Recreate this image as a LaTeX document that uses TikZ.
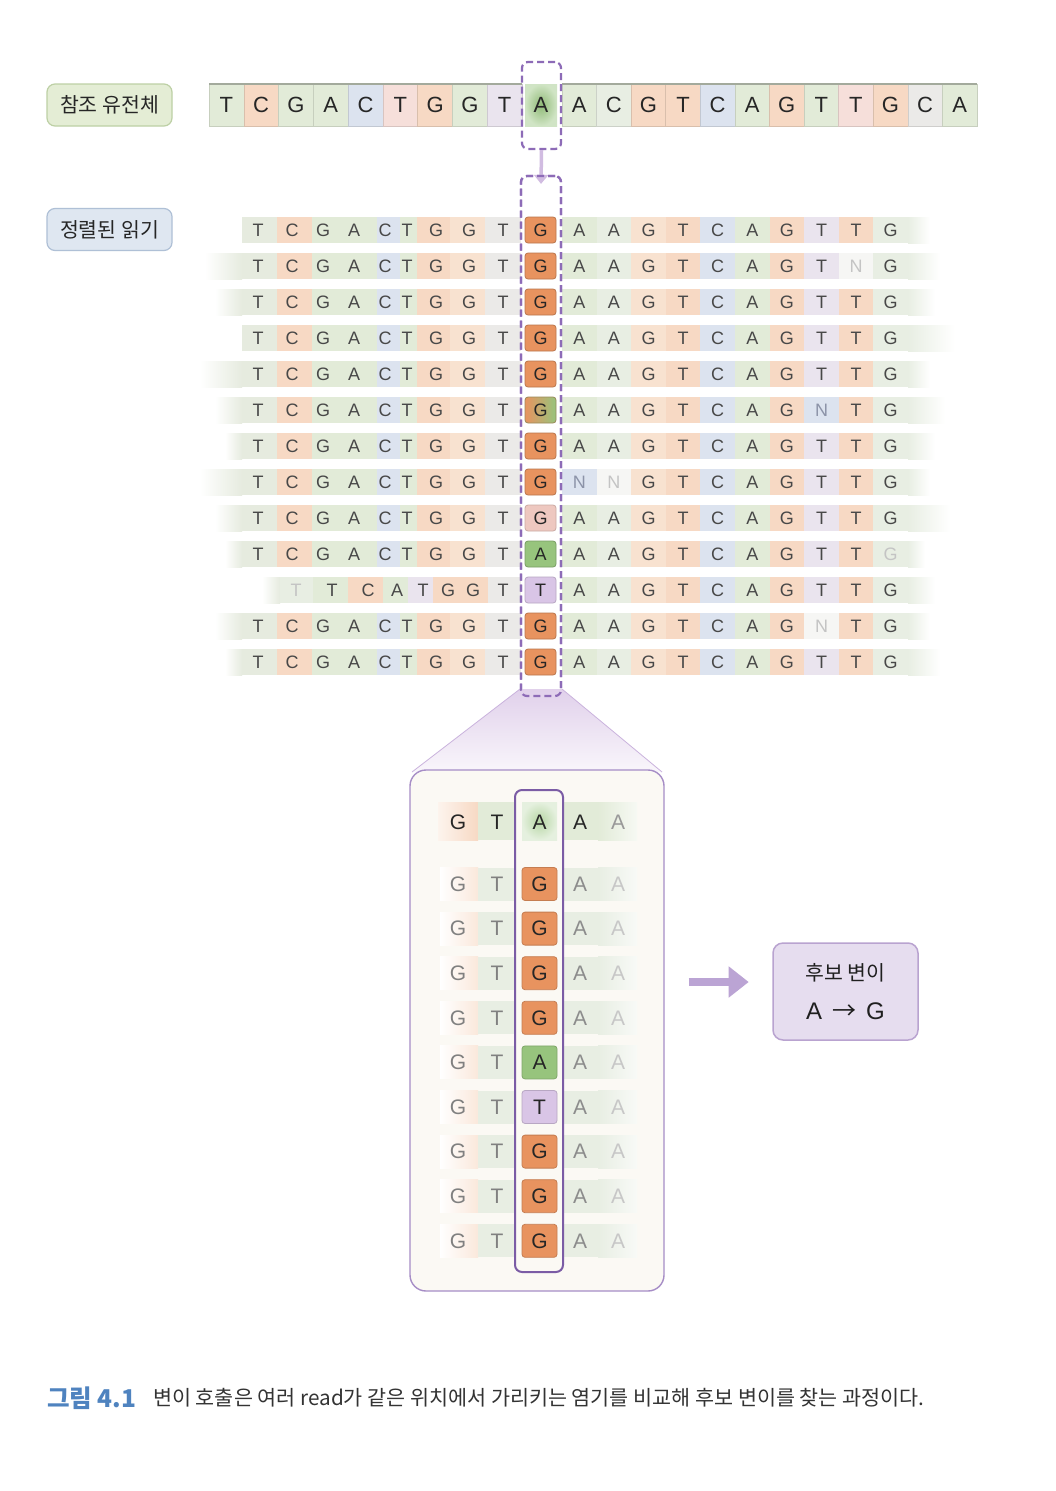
\documentclass[tikz,border=0pt]{standalone}
\usepackage{fontspec}
\setmainfont{Liberation Sans}
\newfontfamily\kr{Noto Sans CJK KR}
\usetikzlibrary{arrows.meta,calc}

\definecolor{cell1}{HTML}{E6EBDF}
\definecolor{cell2}{HTML}{F7D9C4}
\definecolor{cell3}{HTML}{E2EBD8}
\definecolor{cell4}{HTML}{DCE3EF}
\definecolor{cell5}{HTML}{F8E2D0}
\definecolor{cell6}{HTML}{EBEAE8}
\definecolor{cell7}{HTML}{E8EEE3}
\definecolor{cell8}{HTML}{EAE4EE}
\definecolor{cell9}{HTML}{F6F6F4}
\definecolor{cell10}{HTML}{F6DFDA}
\definecolor{gOr}{HTML}{E8935F}
\definecolor{gGr}{HTML}{97C47D}
\definecolor{gLi}{HTML}{D9C5E6}
\definecolor{gPk}{HTML}{EEC8C0}
\definecolor{selc}{HTML}{8D6BB7}
\definecolor{selc2}{HTML}{7B5CA5}
\definecolor{txtc}{HTML}{484848}
\definecolor{faintc}{HTML}{C4C4C4}
\definecolor{midc}{HTML}{8C93A8}
\definecolor{labG}{HTML}{E4EDD5}
\definecolor{labGd}{HTML}{BDD0A5}
\definecolor{labB}{HTML}{DFE7F1}
\definecolor{labBd}{HTML}{AFC0D6}
\definecolor{panF}{HTML}{FBF9F4}
\definecolor{panD}{HTML}{A68DC6}
\definecolor{candF}{HTML}{E6DDEF}
\definecolor{candD}{HTML}{B9A3D0}
\definecolor{arrc}{HTML}{BBA4D4}
\definecolor{capb}{HTML}{4F83BF}
\definecolor{reflc}{HTML}{A3AA9C}

\def\xqT{T}\def\xqC{C}\def\xqG{G}\def\xqA{A}\def\xqN{\textcolor{midc}{N}}
\def\xqt{\textcolor{faintc}{T}}\def\xqc{\textcolor{faintc}{C}}
\def\xqg{\textcolor{faintc}{G}}\def\xqa{\textcolor{faintc}{A}}
\def\xqn{\textcolor{faintc}{N}}
\def\chkN{N}\def\chkn{n}

\def\LE{{242,277,312,345,377,400,417,450,485,521}}
\def\LX{{258,292,323,354,385,407,436,469,503}}
\def\LC{{1,2,3,3,4,3,2,5,6}}
\def\RC{{3,7,5,2,4,3,2,8,2,7}}

\tikzset{
  refb/.style={font=\fontsize{22}{24}\selectfont, text=black!85, inner sep=0pt},
  rdb/.style={font=\fontsize{18}{20}\selectfont, text=txtc, inner sep=0pt},
  ccell/.style={minimum width=31pt, minimum height=26pt, rounded corners=3pt,
    inner sep=0pt, font=\fontsize{18}{20}\selectfont, text=black!85, line width=0.8pt},
  sel/.style={draw=selc, dash pattern=on 7pt off 4pt, line width=2.2pt,
    rounded corners=6pt, inner sep=0pt},
  lab/.style={minimum width=125pt, minimum height=42pt, rounded corners=8pt,
    line width=1.2pt, inner sep=0pt, text=black!85,
    font=\kr\fontsize{20.5}{24}\selectfont},
  pb/.style={font=\fontsize{21}{24}\selectfont, inner sep=0pt},
  pcell/.style={minimum width=35pt, minimum height=33pt, rounded corners=3pt,
    inner sep=0pt, font=\fontsize{21}{24}\selectfont, text=black!85, line width=0.8pt},
}

% #1 idx, #2 y, #3 left letters, #4 centre letter, #5 centre style,
% #6 right letters, #7 left fade start, #8 right fade end
\newcommand\readrow[8]{%
  \pgfmathsetmacro\qxz{\LE[0]}%
  \shade[left color=white,right color=cell1] (#7,#2-13) rectangle (\qxz,#2+13);
  \shade[left color=cell7,right color=white] (908,#2-13) rectangle (#8,#2+13);
  \foreach \bq [count=\j from 0] in {#3} {%
    \pgfmathsetmacro\qxa{\LE[\j]}%
    \pgfmathsetmacro\qxb{\LE[\j+1]}%
    \pgfmathsetmacro\qxl{\LX[\j]}%
    \pgfmathtruncatemacro\qci{\LC[\j]}%
    \edef\curL{\bq}%
    \ifx\curL\chkN\def\qci{4}\fi
    \ifx\curL\chkn\def\qci{9}\fi
    \fill[cell\qci] (\qxa,#2-13) rectangle (\qxb,#2+13);
    \node[rdb] (r#1l\j) at (\qxl,#2) {\csname xq\bq\endcsname};
  }
  \node[ccell,#5] (r#1c) at (540.5,#2) {#4};
  \foreach \bq [count=\j from 0] in {#6} {%
    \pgfmathsetmacro\qxa{562+34.6*\j}%
    \pgfmathsetmacro\qxb{\qxa+34.6}%
    \pgfmathtruncatemacro\qci{\RC[\j]}%
    \edef\curL{\bq}%
    \ifx\curL\chkN\def\qci{4}\fi
    \ifx\curL\chkn\def\qci{9}\fi
    \fill[cell\qci] (\qxa,#2-13) rectangle (\qxb,#2+13);
    \node[rdb] (r#1r\j) at ({\qxa+17.3},#2) {\csname xq\bq\endcsname};
  }
}

\begin{document}
\begin{tikzpicture}[x=1pt,y=-1pt]
\useasboundingbox (0,0) rectangle (1055,1491);
\fill[white] (0,0) rectangle (1055,1491);

% ---------- labels ----------
\node[lab,fill=labG,draw=labGd] (reflab) at (109.5,105) {참조 유전체};
\node[lab,fill=labB,draw=labBd] (readlab) at (109.5,229.5) {정렬된 읽기};

% ---------- reference row ----------
\foreach \bq/\c [count=\j from 0] in {T/3,C/2,G/3,A/3,C/4,T/10,G/2,G/3,T/8} {
  \pgfmathsetmacro\qxa{209+34.78*\j}
  \pgfmathsetmacro\qxb{\qxa+34.78}
  \fill[cell\c, draw=cell\c!88!black, line width=0.5pt] (\qxa,84) rectangle (\qxb,126);
  \node[refb] (g\j) at ({\qxa+17.39},105) {\bq};
}
\shade[inner color=gGr!95!black, outer color=gGr!45] (525,84) rectangle (557,126);
\node[refb] (g9) at (541,105) {A};
\foreach \bq/\c [count=\j from 10] in {A/3,C/7,G/2,T/2,C/4,A/3,G/2,T/3,T/10,G/2,C/6,A/3} {
  \pgfmathsetmacro\qxa{562+34.58*(\j-10)}
  \pgfmathsetmacro\qxb{\qxa+34.58}
  \fill[cell\c, draw=cell\c!88!black, line width=0.5pt] (\qxa,84) rectangle (\qxb,126);
  \node[refb] (g\j) at ({\qxa+17.29},105) {\bq};
}
\draw[reflc, line width=1.2pt] (209,84) -- (522,84) (562,84) -- (977,84);

% ---------- aligned reads ----------
\readrow{1}{230}{T,C,G,A,C,T,G,G,T}{G}{fill=gOr,draw=gOr!80!black}{A,A,G,T,C,A,G,T,T,G}{242}{930}
\readrow{2}{266}{T,C,G,A,C,T,G,G,T}{G}{fill=gOr,draw=gOr!80!black}{A,A,G,T,C,A,G,T,n,G}{205}{940}
\readrow{3}{302}{T,C,G,A,C,T,G,G,T}{G}{fill=gOr,draw=gOr!80!black}{A,A,G,T,C,A,G,T,T,G}{215}{935}
\readrow{4}{338}{T,C,G,A,C,T,G,G,T}{G}{fill=gOr,draw=gOr!80!black}{A,A,G,T,C,A,G,T,T,G}{242}{955}
\readrow{5}{374}{T,C,G,A,C,T,G,G,T}{G}{fill=gOr,draw=gOr!80!black}{A,A,G,T,C,A,G,T,T,G}{200}{930}
\readrow{6}{410}{T,C,G,A,C,T,G,G,T}{G}{left color=gOr,right color=gGr,draw=gOr!50!gGr!80!black}{A,A,G,T,C,A,G,N,T,G}{215}{945}
\readrow{7}{446}{T,C,G,A,C,T,G,G,T}{G}{fill=gOr,draw=gOr!80!black}{A,A,G,T,C,A,G,T,T,G}{225}{935}
\readrow{8}{482}{T,C,G,A,C,T,G,G,T}{G}{fill=gOr,draw=gOr!80!black}{N,n,G,T,C,A,G,T,T,G}{200}{930}
\readrow{9}{518}{T,C,G,A,C,T,G,G,T}{G}{fill=gPk,draw=gPk!85!black}{A,A,G,T,C,A,G,T,T,G}{215}{950}
\readrow{10}{554}{T,C,G,A,C,T,G,G,T}{A}{fill=gGr,draw=gGr!80!black}{A,A,G,T,C,A,G,T,T,g}{225}{925}
{%
\def\LE{{280,313,348,383,408,433,458,488,521}}%
\def\LX{{296,332,368,397,423,448,473,503}}%
\def\LC{{7,3,2,3,8,2,2,6}}%
\readrow{11}{590}{t,T,C,A,T,G,G,T}{T}{fill=gLi,draw=gLi!85!black}{A,A,G,T,C,A,G,T,T,G}{262}{935}
}
\readrow{12}{626}{T,C,G,A,C,T,G,G,T}{G}{fill=gOr,draw=gOr!80!black}{A,A,G,T,C,A,G,n,T,G}{215}{930}
\readrow{13}{662}{T,C,G,A,C,T,G,G,T}{G}{fill=gOr,draw=gOr!80!black}{A,A,G,T,C,A,G,T,T,G}{225}{940}

% ---------- selectors ----------
\node[sel, minimum width=39pt, minimum height=87pt] (topsel) at (541.5,105.5) {};
\node[sel, minimum width=40pt, minimum height=520pt] (colsel) at (541,436) {};
\draw[line width=3.5pt, draw=gLi!90!selc, -{Triangle[length=9pt,width=14pt]}]
  (topsel.south) -- ([yshift=-9pt]colsel.north);

% ---------- zoom wedge and panel ----------
\shade[top color=gLi!80, bottom color=gLi!15]
  ([yshift=8pt]colsel.south west) -- ([yshift=8pt]colsel.south east)
  -- (662,772) -- (412,772) -- cycle;
\draw[gLi!80!selc, line width=0.8pt] ([yshift=8pt]colsel.south west) -- (412,772)
  ([yshift=8pt]colsel.south east) -- (662,772);
\node[sel, minimum width=40pt, minimum height=520pt] at (541,436) {};

\node[draw=panD, fill=panF, line width=1.4pt, rounded corners=16pt,
  minimum width=254pt, minimum height=521pt, inner sep=0pt] (panel) at (537,1030.5) {};

% top row of panel
\shade[left color=cell2!30, right color=cell2] (438,802) rectangle (478,840);
\fill[cell3] (478,802) rectangle (515,840);
\shade[inner color=gGr!70, outer color=gGr!25] (522,802) rectangle (557,840);
\fill[cell3] (563,802) rectangle (598,840);
\shade[left color=cell3, right color=cell3!30] (598,802) rectangle (637,840);
\node[pb,text=black!85] (pt0) at (458,822) {G};
\node[pb,text=black!85] (pt1) at (497,822) {T};
\node[pb,text=black!85] (pt2) at (539.5,822) {A};
\node[pb,text=black!85] (pt3) at (580,822) {A};
\node[pb,text=black!40] (pt4) at (618,822) {A};

\foreach \bq/\sty [count=\k from 0] in {G/gOr,G/gOr,G/gOr,G/gOr,A/gGr,T/gLi,G/gOr,G/gOr,G/gOr} {
  \pgfmathsetmacro\yy{884+44.6*\k}
  \shade[left color=white, right color=cell2!60] (440,\yy-16.5) rectangle (478,\yy+16.5);
  \fill[cell7] (478,\yy-16.5) rectangle (515,\yy+16.5);
  \fill[cell7] (563,\yy-16.5) rectangle (598,\yy+16.5);
  \shade[left color=cell7, right color=cell7!30] (598,\yy-16.5) rectangle (637,\yy+16.5);
  \node[pb,text=black!50] (pa\k) at (458,\yy) {G};
  \node[pb,text=black!50] (pb\k) at (497,\yy) {T};
  \node[pcell,fill=\sty,draw=\sty!85!black] (pc\k) at (539.5,\yy) {\bq};
  \node[pb,text=black!45] (pd\k) at (580,\yy) {A};
  \node[pb,text=black!22] (pe\k) at (618,\yy) {A};
}
\node[draw=selc2, line width=2pt, rounded corners=7pt, minimum width=48pt,
  minimum height=482pt, inner sep=0pt] (pcol) at (539,1031) {};

% ---------- candidate ----------
\node[draw=candD, fill=candF, line width=1.5pt, rounded corners=10pt,
  minimum width=145pt, minimum height=97pt, inner sep=0pt] (cand) at (845.5,991.5) {};
\node[font=\kr\fontsize{20.5}{24}\selectfont, text=black!88, inner sep=0pt] (candt1) at (845.5,973) {후보 변이};
\node[font=\fontsize{24}{27}\selectfont, text=black!88, inner sep=0pt] (candt2) at (845.5,1011) {A\kern10pt{\kr →}\kern10pt G};
\draw[line width=8pt, draw=arrc, -{Triangle[length=20pt,width=30pt]}]
  ([yshift=9.5pt]panel.east |- cand.west) ++(24,0) -- ++(60,0);

% ---------- caption ----------
\node[anchor=west, font=\kr\bfseries\fontsize{24.5}{28}\selectfont, text=capb, inner sep=0pt]
  (figno) at (47,1398) {그림 4.1};
\node[anchor=west, font=\kr\fontsize{20.7}{24}\selectfont, text=black!80, inner sep=0pt]
  (cap) at (153,1398) {변이 호출은 여러 read가 같은 위치에서 가리키는 염기를 비교해 후보 변이를 찾는 과정이다.};
\end{tikzpicture}
\end{document}
